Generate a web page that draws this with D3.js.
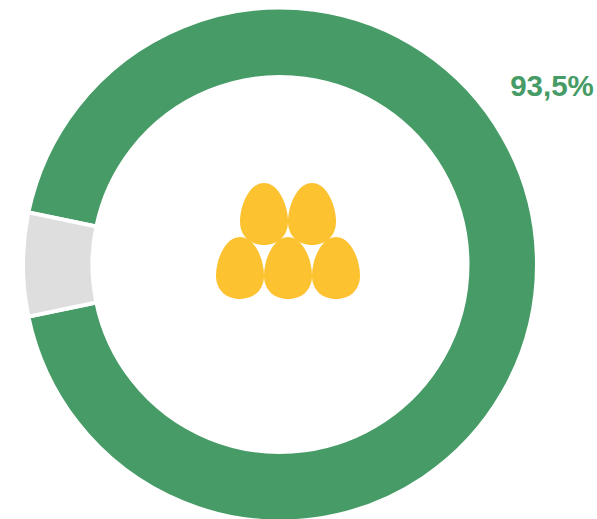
<!DOCTYPE html>
<html><head><meta charset="utf-8">
<script src="https://cdn.jsdelivr.net/npm/d3@7"></script>
<style>html,body{margin:0;padding:0;background:#fff}svg{display:block}</style>
</head><body><svg id="c" width="597" height="519"></svg>
<script>
const categories = ["Yes", "Other"];
const values = [93.5, 6.5];
const colors = ["#469b66", "#dedede"];
const valueLabel = "93,5%";
const eggRows = [2, 3];

const svg = d3.select("#c");
const cx = 280, cy = 265, outer = 257, inner = 187.5;
const half = (values[1] / 100) * Math.PI;
const start = 1.5 * Math.PI + half;
const pie = d3.pie().sort(null).startAngle(start).endAngle(start + 2 * Math.PI);
const arc = d3.arc().innerRadius(inner).outerRadius(outer);
const g = svg.append("g").attr("transform", `translate(${cx},${cy - 0.5})`);
g.selectAll("path").data(pie(values)).join("path")
  .attr("d", arc).attr("fill", (d, i) => colors[i])
  .attr("stroke", "#fff").attr("stroke-width", 4).attr("stroke-linejoin", "miter");

svg.append("text").attr("x", 552).attr("y", 96).attr("text-anchor", "middle")
  .attr("font-family", "Liberation Sans, Arial, sans-serif").attr("font-weight", 700)
  .attr("font-size", 29.5).attr("fill", colors[0]).text(valueLabel);

// egg shape, origin at centre of its box (48 x 62)
const egg = "M0,-31 C15,-31 24,-8 24,7.5 C24,22 14,31 0,31 C-14,31 -24,22 -24,7.5 C-24,-8 -15,-31 0,-31 Z";
const rowScale = d3.scaleBand().domain(d3.range(eggRows.length)).range([183, 183 + 54 * 2]);
eggRows.forEach((n, r) => {
  const rowCx = 288;
  d3.range(n).forEach(i => {
    svg.append("path").attr("d", egg).attr("fill", "#fdc230")
      .attr("transform", `translate(${rowCx + (i - (n - 1) / 2) * 48},${rowScale(r) + 31})`);
  });
});
</script></body></html>
